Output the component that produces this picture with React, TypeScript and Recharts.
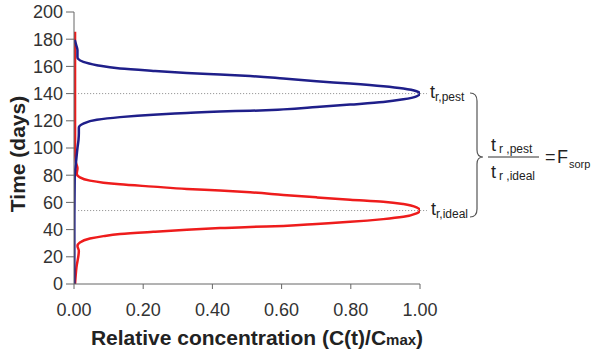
import React from 'react';
import { LineChart, Line, XAxis, YAxis, ReferenceLine, Label } from 'recharts';

const FONT = '"Liberation Sans", Arial, Helvetica, sans-serif';

const timeTicks = [0, 20, 40, 60, 80, 100, 120, 140, 160, 180, 200];
const concTicks = [0, 0.2, 0.4, 0.6, 0.8, 1.0];

// Ideal tracer breakthrough (red)
const idealTime = [0, 12, 24.4, 28, 30.5, 33.4, 35.2, 36.7, 38.4, 39.9, 41.1, 42, 42.7, 44.2, 45.7, 47.7, 49.4, 51.9, 54, 56.3, 58.8, 60.5, 62, 63.7, 65.5, 67.4, 68.7, 69.9, 71.6, 73.3, 74.5, 76, 78.4, 81, 85, 90, 100, 185.5];
const idealConc = [0.003, 0.007, 0.014, 0.01, 0.017, 0.046, 0.085, 0.133, 0.229, 0.326, 0.422, 0.509, 0.605, 0.701, 0.798, 0.894, 0.952, 0.99, 1.0, 0.99, 0.952, 0.894, 0.798, 0.701, 0.605, 0.509, 0.422, 0.326, 0.229, 0.133, 0.085, 0.046, 0.017, 0.008, 0.01, 0.005, 0.003, 0.003];

// Pesticide breakthrough (blue)
const pestTime = [0, 40, 78, 90, 100, 106, 111, 114.9, 117.9, 120.8, 122.7, 124.5, 125.7, 126.9, 127.4, 128.4, 130.1, 131.9, 133.8, 135.8, 138, 140, 141.7, 143.7, 145.4, 147.4, 149.1, 151.1, 152.9, 154, 155.2, 156.7, 158.4, 160.9, 163.3, 165.5, 167, 172, 176, 179.5];
const pestConc = [0.001, 0.001, 0.002, 0.006, 0.01, 0.013, 0.014, 0.014, 0.027, 0.066, 0.133, 0.229, 0.326, 0.422, 0.509, 0.605, 0.701, 0.798, 0.894, 0.952, 0.99, 1.0, 0.99, 0.952, 0.894, 0.798, 0.701, 0.605, 0.509, 0.422, 0.326, 0.229, 0.133, 0.066, 0.027, 0.012, 0.01, 0.01, 0.006, 0.002];

const peakTimes = [140, 54];

const idealData = idealTime.map((t, i) => ({ t, c: idealConc[i] }));
const pestData = pestTime.map((t, i) => ({ t, c: pestConc[i] }));

const XTitle = (props: any) => {
  const vb = props.viewBox || {};
  const cx = vb.x + vb.width / 2 + 10;
  return (
    <text x={cx} y={345} textAnchor="middle" fontFamily={FONT} fontWeight="bold" fontSize={21} fill="#222">
      Relative concentration (C(t)/C<tspan fontSize={15}>max</tspan>)
    </text>
  );
};

const YTitle = () => {
  return (
    <text x={0} y={0} transform="translate(25,154) rotate(-90)" textAnchor="middle" fontFamily={FONT} fontWeight="bold" fontSize={21} fill="#222">
      Time (days)
    </text>
  );
};

export default function App() {
  return (
    <div style={{ position: 'absolute', left: 0, top: 0, width: 592, height: 354, background: '#fff' }}>
      <LineChart
        layout="vertical"
        width={592}
        height={354}
        margin={{ top: 12, right: 172, bottom: 0, left: 0 }}
      >
        <XAxis
          type="number"
          domain={[0, 1]}
          ticks={concTicks}
          tickFormatter={(v: number) => v.toFixed(2)}
          height={70}
          tickSize={5}
          tickMargin={14}
          stroke="#666"
          tick={{ fill: '#333', fontSize: 18, fontFamily: FONT }}
          allowDataOverflow
        >
          <Label content={XTitle} />
        </XAxis>
        <YAxis
          type="number"
          dataKey="t"
          domain={[0, 200]}
          reversed
          ticks={timeTicks}
          width={74}
          tickSize={8}
          tickMargin={3}
          stroke="#666"
          tick={{ fill: '#333', fontSize: 18, fontFamily: FONT }}
          allowDataOverflow
        >
          <Label content={YTitle} />
        </YAxis>
        {peakTimes.map((p) => (
          <ReferenceLine
            key={p}
            segment={[{ x: 0.012, y: p }, { x: 1.02, y: p }]}
            ifOverflow="visible"
            stroke="#888"
            strokeWidth={1}
            strokeDasharray="1 2"
          />
        ))}
        <Line data={idealData} dataKey="c" type="monotoneY" stroke="#ee1c1c" strokeWidth={2.5} dot={false} isAnimationActive={false} />
        <Line data={pestData} dataKey="c" type="monotoneY" stroke="#1f1f8a" strokeWidth={2.5} dot={false} isAnimationActive={false} />
      </LineChart>
      <svg width={592} height={354} style={{ position: 'absolute', left: 0, top: 0, pointerEvents: 'none' }} fontFamily={FONT}>
        <text x={430} y={98} fontSize={18} fill="#222">t<tspan fontSize={12} dy={3}>r,pest</tspan></text>
        <text x={431} y={215} fontSize={18} fill="#222">t<tspan fontSize={12} dy={3}>r,ideal</tspan></text>
        <path d="M470,93 Q477,93 477,101 L477,150 Q477,157 483,157 Q477,157 477,164 L477,209 Q477,217 470,217" fill="none" stroke="#555" strokeWidth={1.2} />
        <text x={491} y={151} fontSize={18} fill="#222">t<tspan fontSize={12} dx={3} dy={2}>r ,pest</tspan></text>
        <line x1={488} x2={539} y1={157} y2={157} stroke="#333" strokeWidth={1.2} />
        <text x={491} y={178} fontSize={18} fill="#222">t<tspan fontSize={12} dx={3} dy={2}>r ,ideal</tspan></text>
        <text x={545} y={163} fontSize={18} fill="#222">=</text>
        <text x={557} y={163} fontSize={18} fill="#222">F</text>
        <text x={569} y={168} fontSize={11} fill="#222">sorp</text>
      </svg>
    </div>
  );
}
